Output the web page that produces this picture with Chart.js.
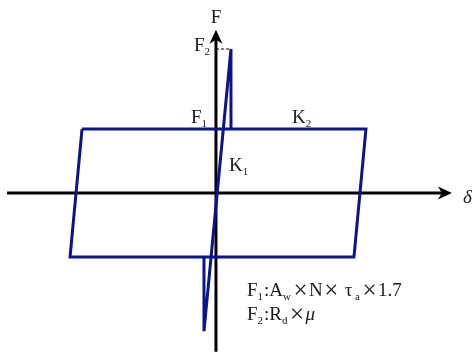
<!DOCTYPE html>
<html>
<head>
<meta charset="utf-8">
<script src="https://cdn.jsdelivr.net/npm/chart.js@4"></script>
<style>
html,body{margin:0;padding:0;background:#fff}
#c{display:block}
</style>
</head>
<body>
<canvas id="c" width="475" height="354"></canvas>
<script>
// hysteresis loop, displacement / force (F1 = 1)
const loopD = [-8.93, 10.0, 9.2, -9.73, -8.93]
const loopF = [1, 1, -1, -1, 1]
// K1 branch through the origin, peaks at F2 and -F2, drops back to the loop
const spikeD = [-0.8, -0.8, 1.0, 1.0]
const spikeF = [-1, -2.16, 2.25, 1]
const F2 = 2.25
// axis extents
const axX = [-13.93, 15.73]
const axY = [-2.48, 2.55]

const pts = (xs, ys) => xs.map((a, i) => ({x: a, y: ys[i]}))
const blue = '#0c148a'
const serif = '"Liberation Serif", "DejaVu Serif", serif'

// text made of pieces: n normal, s subscript, i italic, x times sign
const rich = (ctx, x, y, parts) => {
    parts.forEach(([t, k]) => {
        if (k == 'x') {
            ctx.font = `25px ${serif}`
            const w = ctx.measureText(t).width
            ctx.fillText(t, x + 1.5, y + 2)
            x += w + 3
            return
        }
        ctx.font = k == 's' ? `11px ${serif}` : k == 'i' ? `italic 19px ${serif}` : `19px ${serif}`
        ctx.fillText(t, x, k == 's' ? y + 4 : y)
        x += ctx.measureText(t).width + (k == 's' ? 1 : 0)
    })
    return x
}
const width = (ctx, parts) => {
    ctx.save(); const w = rich(ctx, 0, -9999, parts); ctx.restore(); return w
}

const arrow = (ctx, x, y, dx, dy) => {
    const L = 14, W = 6.5, N = 4, nx = -dy, ny = dx
    ctx.beginPath()
    ctx.moveTo(x, y)
    ctx.lineTo(x - dx * L + nx * W, y - dy * L + ny * W)
    ctx.lineTo(x - dx * (L - N), y - dy * (L - N))
    ctx.lineTo(x - dx * L - nx * W, y - dy * L - ny * W)
    ctx.closePath()
    ctx.fill()
}

const pic = {
    id: 'pic',
    beforeDatasetsDraw(c) {
        const ctx = c.ctx, px = v => c.scales.x.getPixelForValue(v), py = v => c.scales.y.getPixelForValue(v)
        ctx.save()
        ctx.strokeStyle = '#000'
        ctx.lineWidth = 3
        ctx.beginPath()
        ctx.moveTo(px(axX[0]), py(0)); ctx.lineTo(px(axX[1]) - 8, py(0))
        ctx.moveTo(px(0), py(axY[0])); ctx.lineTo(px(0), py(axY[1]) + 8)
        ctx.stroke()
        ctx.restore()
    },
    afterDatasetsDraw(c) {
        const ctx = c.ctx, px = v => c.scales.x.getPixelForValue(v), py = v => c.scales.y.getPixelForValue(v)
        const ox = px(0), oy = py(0)
        ctx.save()
        ctx.fillStyle = '#000'
        arrow(ctx, px(axX[1]), oy, 1, 0)
        arrow(ctx, ox, py(axY[1]), 0, -1)

        ctx.fillStyle = '#1a1a1a'
        ctx.textBaseline = 'alphabetic'
        // F on top of the force axis
        ctx.font = `19px ${serif}`
        ctx.fillText('F', ox - ctx.measureText('F').width / 2, py(axY[1]) - 7)
        // F2 and F1 left of the axis
        let p = [['F', 'n'], ['2', 's']]
        rich(ctx, ox - 5 - width(ctx, p), py(F2) + 2, p)
        p = [['F', 'n'], ['1', 's']]
        rich(ctx, ox - 8 - width(ctx, p), py(1) - 6, p)
        // stiffness labels
        rich(ctx, px(5.07), py(1) - 6, [['K', 'n'], ['2', 's']])
        rich(ctx, ox + 13, oy - 22, [['K', 'n'], ['1', 's']])
        // displacement
        rich(ctx, px(axX[1]) + 11, oy + 10, [['δ', 'i']])
        // formulas
        rich(ctx, ox + 31, oy + 103, [['F', 'n'], ['1', 's'], [':', 'n'], ['A', 'n'], ['w', 's'], ['×', 'x'], ['N', 'n'], ['×', 'x'], [' τ', 'n'], [' a', 's'], ['×', 'x'], ['1.7', 'n']])
        rich(ctx, ox + 31, oy + 127, [['F', 'n'], ['2', 's'], [':', 'n'], ['R', 'n'], ['d', 's'], ['×', 'x'], ['μ', 'i']])
        ctx.restore()
    }
}

new Chart(document.getElementById('c'), {
    type: 'scatter',
    data: {
        datasets: [
            {
                label: 'loop',
                data: pts(loopD, loopF),
                showLine: true,
                borderColor: blue,
                borderWidth: 3,
                borderJoinStyle: 'miter',
                pointRadius: 0,
                tension: 0,
            },
            {
                label: 'K1',
                data: pts(spikeD, spikeF),
                showLine: true,
                borderColor: blue,
                borderWidth: 3,
                borderJoinStyle: 'miter',
                pointRadius: 0,
                tension: 0,
            },
            {
                label: 'F2',
                data: pts([0, spikeD[2]], [F2, F2]),
                showLine: true,
                borderColor: '#000',
                borderWidth: 1,
                borderDash: [3, 2],
                pointRadius: 0,
            },
        ]
    },
    options: {
        responsive: false,
        animation: false,
        events: [],
        layout: { padding: 0 },
        plugins: { legend: { display: false }, tooltip: { enabled: false } },
        scales: {
            x: { type: 'linear', display: false, min: -14.4, max: 17.27 },
            y: { type: 'linear', display: false, min: -2.516, max: 3.016 },
        }
    },
    plugins: [pic]
})
</script>
</body>
</html>
